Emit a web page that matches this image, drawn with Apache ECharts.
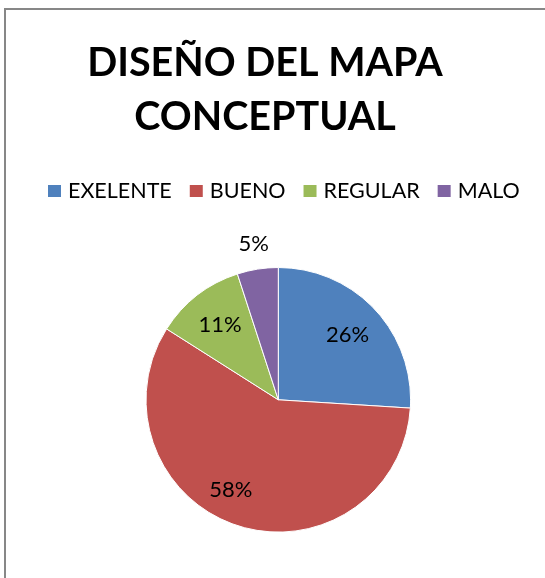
<!DOCTYPE html>
<html>
<head>
<meta charset="utf-8">
<script src="https://cdn.jsdelivr.net/npm/echarts@6/dist/echarts.min.js"></script>
<style>
  html, body { margin: 0; padding: 0; background: #fff; }
  #main { position: absolute; left: 0; top: 0; width: 545px; height: 578px; }
  #frame { position: absolute; left: 4px; top: 8px; width: 560px; height: 600px;
           border-left: 2px solid #878787; border-top: 2px solid #878787; pointer-events: none; }
</style>
</head>
<body>
<div id="main"></div>
<div id="frame"></div>
<script>
// datos del grafico
var categorias = ['EXELENTE', 'BUENO', 'REGULAR', 'MALO']
var valores = [26, 58, 11, 5]
var colores = ['#4F81BD', '#C0504D', '#9BBB59', '#8064A2']

var chart = echarts.init(document.getElementById('main'))

var centro = [278.3, 399.8]
var radio = 132.3
var fuente = 'Lato'

// etiquetas dentro (las 3 grandes) y fuera (MALO)
var padEtiqueta = [[0, 0, 0, 0], [0, 36, 14, 0], [0, 0, 0, 0], null]

var datosPie = categorias.map(function (c, i) {
	return { name: c, value: valores[i], itemStyle: { color: colores[i] } }
})
var datosDentro = categorias.map(function (c, i) {
	return {
		name: c, value: valores[i],
		itemStyle: { color: 'rgba(0,0,0,0)', borderWidth: 0 },
		label: padEtiqueta[i] ? { show: true, padding: padEtiqueta[i] } : { show: false }
	}
})
var datosFuera = categorias.map(function (c, i) {
	return {
		name: c, value: valores[i],
		itemStyle: { color: 'rgba(0,0,0,0)', borderWidth: 0 },
		label: { show: padEtiqueta[i] == null }
	}
})

var etiqueta = {
	position: 'inside',
	formatter: '{d}%',
	color: '#000',
	fontFamily: fuente,
	fontSize: 22
}

var option = {
	backgroundColor: '#fff',
	animation: false,
	title: {
		text: 'DISEÑO DEL MAPA\nCONCEPTUAL',
		left: 260,
		top: 31,
		textAlign: 'center',
		textStyle: {
			fontFamily: fuente,
			fontWeight: 'bold',
			fontSize: 39.5,
			lineHeight: 54.5,
			color: '#000'
		}
	},
	legend: {
		data: categorias,
		left: 46,
		top: 180,
		padding: 0,
		itemWidth: 15,
		itemHeight: 14,
		itemGap: 16,
		icon: 'rect',
		textStyle: { fontFamily: fuente, fontSize: 21.5, color: '#000', padding: [0, 0, 0, 1] }
	},
	series: [
		{
			type: 'pie',
			center: centro,
			radius: radio,
			startAngle: 90,
			clockwise: true,
			silent: true,
			label: { show: false },
			labelLine: { show: false },
			itemStyle: { borderColor: '#fff', borderWidth: 1 },
			data: datosPie
		},
		{
			type: 'pie',
			center: centro,
			radius: [52, radio],
			startAngle: 90,
			silent: true,
			label: etiqueta,
			labelLine: { show: false },
			data: datosDentro
		},
		{
			type: 'pie',
			center: centro,
			radius: [radio + 1, 176],
			startAngle: 90,
			silent: true,
			label: etiqueta,
			labelLine: { show: false },
			data: datosFuera
		}
	]
}
chart.setOption(option)
</script>
</body>
</html>
